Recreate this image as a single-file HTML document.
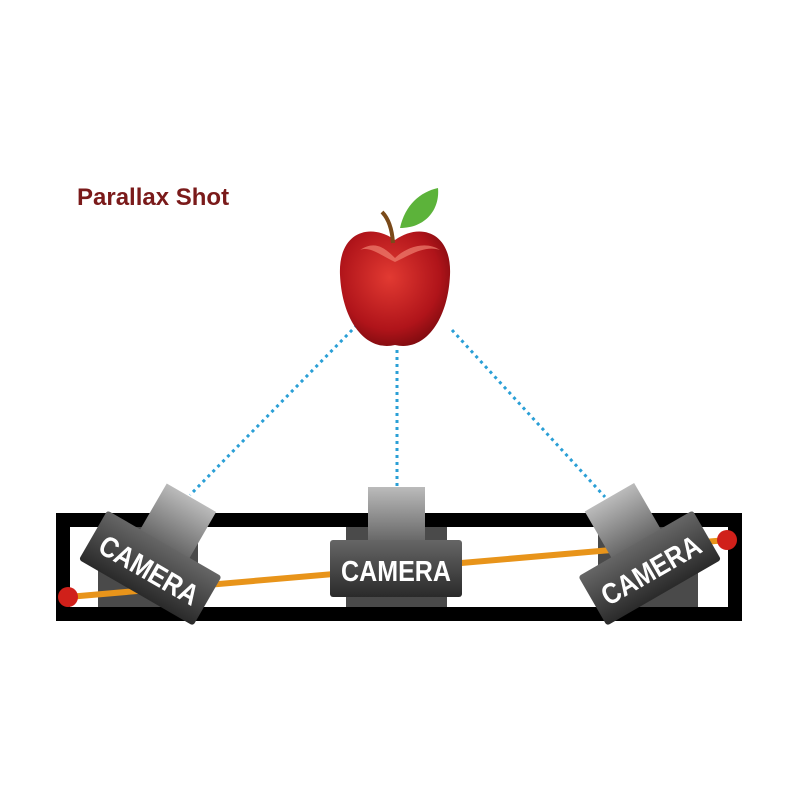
<!DOCTYPE html>
<html><head><style>body{margin:0;background:#fff}</style></head><body>
<svg width="800" height="800" viewBox="0 0 800 800" xmlns="http://www.w3.org/2000/svg">
<defs>
<linearGradient id="g1" x1="0" y1="0" x2="0" y2="1"><stop offset="0" stop-color="#bbb"/><stop offset="1" stop-color="#666"/></linearGradient>
<linearGradient id="g2" x1="0" y1="0" x2="0" y2="1"><stop offset="0" stop-color="#666"/><stop offset="1" stop-color="#2a2a2a"/></linearGradient>
<radialGradient id="ap" cx="0.45" cy="0.4" r="0.65"><stop offset="0" stop-color="#e23a32"/><stop offset="0.7" stop-color="#b0141a"/><stop offset="1" stop-color="#7a0a0e"/></radialGradient>
<g id="cam">
<rect x="-28" y="-78" width="57" height="55" fill="url(#g1)"/>
<rect x="-66" y="-25" width="132" height="57" rx="3" fill="url(#g2)"/>
<text x="0" y="16" text-anchor="middle" font-family="Liberation Sans, sans-serif" font-weight="bold" font-size="29" textLength="110" lengthAdjust="spacingAndGlyphs" fill="#fff">CAMERA</text>
</g>
</defs>
<text x="77" y="205" font-family="Liberation Sans, sans-serif" font-weight="bold" font-size="24" fill="#7a1a1a">Parallax Shot</text>
<g stroke="#2a9fd6" stroke-width="3" stroke-dasharray="3 4">
<line x1="357" y1="325" x2="190" y2="495"/>
<line x1="397" y1="350" x2="397" y2="487"/>
<line x1="452" y1="330" x2="605" y2="497"/>
</g>
<rect x="63" y="520" width="672" height="94" fill="none" stroke="#000" stroke-width="14"/>
<rect x="98" y="527" width="100" height="80" fill="#4a4a4a"/>
<rect x="346" y="527" width="101" height="80" fill="#4a4a4a"/>
<rect x="598" y="527" width="100" height="80" fill="#4a4a4a"/>
<line x1="68" y1="597" x2="727" y2="540" stroke="#e8941a" stroke-width="6"/>
<circle cx="68" cy="597" r="10" fill="#d0201a"/>
<circle cx="727" cy="540" r="10" fill="#d0201a"/>
<use href="#cam" transform="translate(152,565) rotate(30)"/>
<use href="#cam" transform="translate(396,565)"/>
<use href="#cam" transform="translate(648,565) rotate(-30)"/>
<path d="M395 240 C370 222 338 232 340 275 C342 320 365 352 395 345 C425 352 448 320 450 275 C452 232 420 222 395 240Z" fill="url(#ap)"/>
<path d="M360 250 C375 240 385 248 395 258 C405 248 425 240 440 250 C425 245 410 255 395 262 C380 255 370 246 360 250Z" fill="#f08070" opacity="0.7"/>
<path d="M393 243 C392 228 388 218 382 212" stroke="#7a4a1a" stroke-width="4" fill="none"/>
<path d="M400 228 C405 205 420 192 438 188 C440 210 425 228 400 228Z" fill="#5cb33a"/>
</svg>
</body></html>
